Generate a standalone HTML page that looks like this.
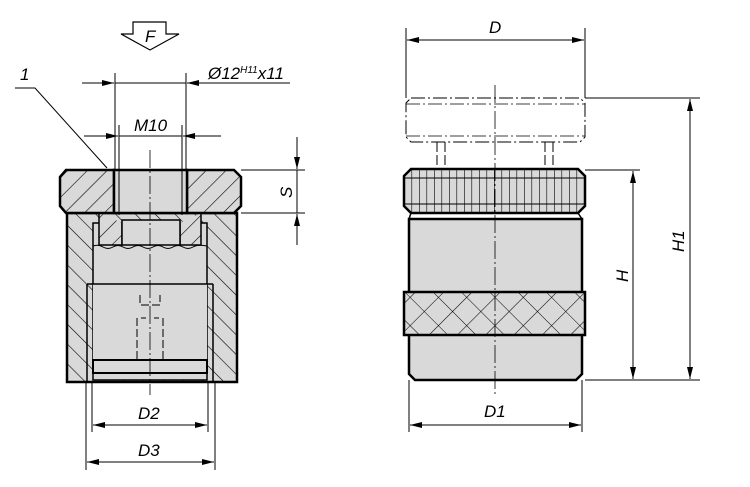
<!DOCTYPE html>
<html><head><style>html,body{margin:0;padding:0;background:#fff}svg{display:block}text{font-family:"Liberation Sans",sans-serif;font-style:italic;fill:#000}</style></head><body>
<svg width="750" height="487" viewBox="0 0 750 487" xmlns="http://www.w3.org/2000/svg">
<defs>
<pattern id="h" patternUnits="userSpaceOnUse" width="14" height="14" patternTransform="rotate(45)"><rect width="14" height="14" fill="#d9d9d9"/><line x1="0" y1="0" x2="0" y2="14" stroke="#000" stroke-width="1.2"/></pattern>
<pattern id="h2" patternUnits="userSpaceOnUse" width="14" height="14" patternTransform="rotate(-45)"><rect width="14" height="14" fill="#d9d9d9"/><line x1="0" y1="0" x2="0" y2="14" stroke="#000" stroke-width="1.2"/></pattern>
<pattern id="kn" patternUnits="userSpaceOnUse" width="7.5" height="40" x="404"><rect width="7.5" height="40" fill="#d9d9d9"/><line x1="0" y1="0" x2="0" y2="40" stroke="#000" stroke-width="1.2"/></pattern>
<pattern id="xk" patternUnits="userSpaceOnUse" width="20" height="20" patternTransform="rotate(45)"><rect width="20" height="20" fill="#d9d9d9"/><path d="M0 0V20M0 0H20" stroke="#000" stroke-width="1.1"/></pattern>
<marker id="a" viewBox="0 0 12 6" refX="12" refY="3" markerWidth="12" markerHeight="6" orient="auto" markerUnits="userSpaceOnUse"><path d="M0 0L12 3L0 6z"/></marker>
</defs>
<g stroke="#000" fill="none">
<path d="M67 213H237V382H67Z" fill="url(#h2)" stroke-width="2.5"/>
<rect x="93" y="223" width="114" height="157" fill="#d9d9d9" stroke-width="1.5"/>
<rect x="93" y="284" width="114" height="76" fill="#d9d9d9" stroke="none"/>
<path d="M87 284V382M213 284V382M87 284H213" stroke-width="1.5"/>
<rect x="93" y="360" width="114" height="13" fill="#d9d9d9" stroke-width="2"/>
<path d="M99 213V245H122V223M201 213V245H180V223" fill="url(#h)" stroke-width="1.5"/>
<rect x="122" y="220" width="58" height="25" fill="#d9d9d9" stroke-width="1.5"/>
<path d="M93 246Q98 244 103 247T113 247T123 247T133 247T143 247T153 247T163 247T173 247T183 247T193 247T207 246" stroke-width="1"/>
<path d="M66 170H114V213H66L60 206V177Z" fill="url(#h)" stroke-width="2.5"/>
<path d="M187 170H234L241 177V206L234 213H187Z" fill="url(#h)" stroke-width="2.5"/>
<rect x="114" y="170" width="73" height="43" fill="#d9d9d9" stroke-width="2.5"/>
<path d="M140 295V305H160V295M137 318V360M163 318V360M141 318H146M154 318H159" stroke-width="1" stroke-dasharray="8 3"/>
<path d="M150 150V395" stroke-width="0.8" stroke-dasharray="18 3 2 3"/>
<path d="M115 73V170M186 73V170M119 125V215M182 125V215M86 382V470M215 382V470M92 382V432M208 382V432" stroke-width="1"/>
<path d="M115 83H186" stroke-width="1"/>
<path d="M82 83H114" marker-end="url(#a)" stroke-width="1"/>
<path d="M290 83H187" marker-end="url(#a)" stroke-width="1"/>
<path d="M84 136H118" marker-end="url(#a)" stroke-width="1"/>
<path d="M221 136H183" marker-end="url(#a)" stroke-width="1"/>
<path d="M119 136H182" stroke-width="1"/>
<path d="M93 425H207" stroke-width="1" marker-end="url(#a)"/>
<path d="M207 425H93" stroke-width="1" marker-end="url(#a)"/>
<path d="M87 462H214" stroke-width="1" marker-end="url(#a)"/>
<path d="M214 462H87" stroke-width="1" marker-end="url(#a)"/>
<path d="M241 170H305M241 213H305" stroke-width="1"/>
<path d="M297 137V169" stroke-width="1" marker-end="url(#a)"/>
<path d="M297 245V214" stroke-width="1" marker-end="url(#a)"/>
<path d="M297 170V213" stroke-width="1"/>
<path d="M15 88H35L107 168" stroke-width="1"/>
<path d="M133 22H166V34H179L150 50L121 34H133Z" stroke-width="1.2" fill="#fff"/>
<path d="M411 98H580L585 103V137L580 142H411L406 137V103Z" stroke-width="1" stroke-dasharray="14 3 2 3"/>
<path d="M406 104H585M406 136H585" stroke-width="0.8" stroke-dasharray="14 3 2 3"/>
<path d="M437 142V170M445 142V170M545 142V170M553 142V170" stroke-width="1" stroke-dasharray="10 3"/>
<path d="M411 169H578L585 176V206L578 213H411L404 206V176Z" fill="url(#kn)" stroke-width="2.5"/>
<path d="M404 178H585M404 204H585" stroke-width="1"/>
<path d="M411 213L409 219H582L578 213" stroke-width="1.5"/>
<path d="M409 219H582V374L576 380H415L409 374Z" fill="#d9d9d9" stroke-width="2.5"/>
<rect x="404" y="292" width="181" height="43" fill="url(#xk)" stroke-width="2.5"/>
<path d="M495 85V395" stroke-width="0.8" stroke-dasharray="18 3 2 3"/>
<path d="M406 28V98M585 28V98M409 380V432M582 380V432M585 98H700M585 170H640M585 380H700" stroke-width="1"/>
<path d="M407 40H584" marker-end="url(#a)" stroke-width="1"/>
<path d="M584 40H407" marker-end="url(#a)" stroke-width="1"/>
<path d="M410 425H581" marker-end="url(#a)" stroke-width="1"/>
<path d="M581 425H410" marker-end="url(#a)" stroke-width="1"/>
<path d="M633 171V379" marker-end="url(#a)" stroke-width="1"/>
<path d="M633 379V171" marker-end="url(#a)" stroke-width="1"/>
<path d="M690 99V379" marker-end="url(#a)" stroke-width="1"/>
<path d="M690 379V99" marker-end="url(#a)" stroke-width="1"/>
</g>
<g font-size="17">
<text x="145" y="42">F</text>
<text x="20" y="80">1</text>
<text x="208" y="79">Ø12<tspan font-size="10" dy="-6">H11</tspan><tspan dy="6">x11</tspan></text>
<text x="134" y="131">M10</text>
<text x="138" y="419">D2</text>
<text x="138" y="456">D3</text>
<text x="489" y="33">D</text>
<text x="484" y="417">D1</text>
<text transform="translate(292,198) rotate(-90)">S</text>
<text transform="translate(628,282) rotate(-90)">H</text>
<text transform="translate(684,252) rotate(-90)">H1</text>
</g>
</svg>
</body></html>
